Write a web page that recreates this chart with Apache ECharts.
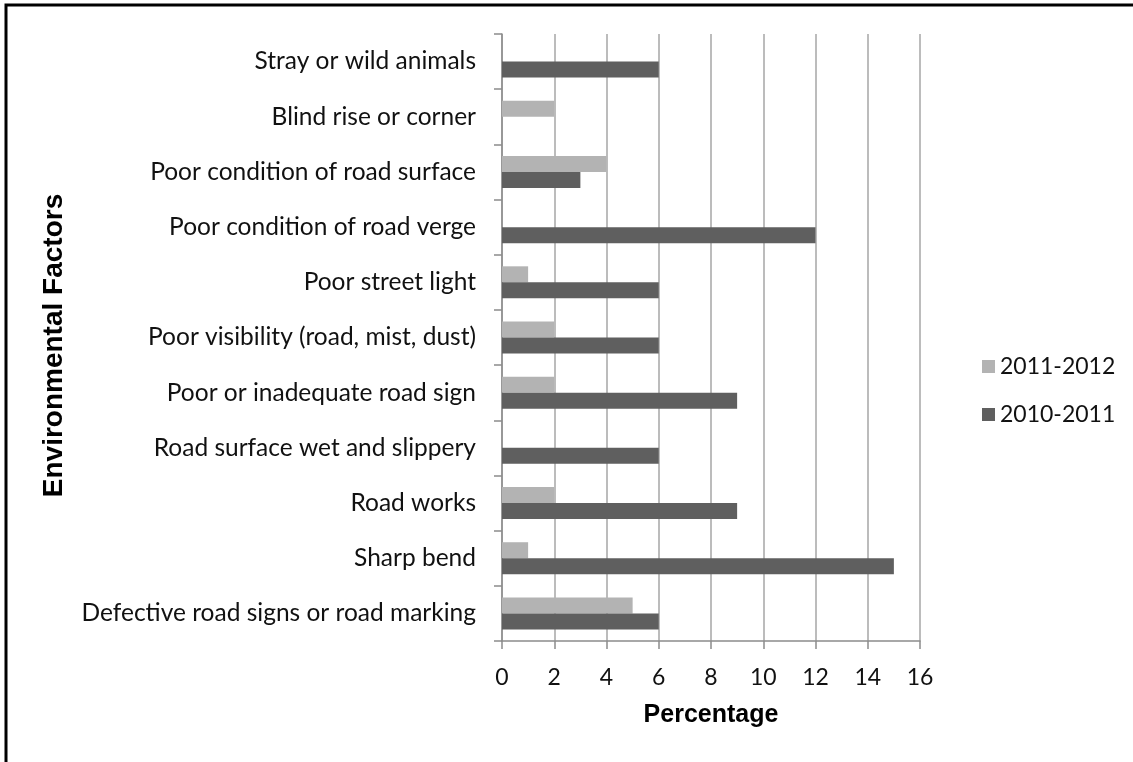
<!DOCTYPE html>
<html>
<head>
<meta charset="utf-8">
<title>Environmental Factors</title>
<script src="https://cdn.jsdelivr.net/npm/echarts@6/dist/echarts.min.js"></script>
<style>
  html, body { margin: 0; padding: 0; background: #fff; }
  #myChart { width: 1133px; height: 762px; }
</style>
</head>
<body>
<div id="myChart"></div>
<script>
  // categories, top to bottom as in the picture
  var factors = [
    'Stray or wild animals',
    'Blind rise or corner',
    'Poor condition of road surface',
    'Poor condition of road verge',
    'Poor street light',
    'Poor visibility (road, mist, dust)',
    'Poor or inadequate road sign',
    'Road surface wet and slippery',
    'Road works',
    'Sharp bend',
    'Defective road signs or road marking'
  ];
  var seriesNames = ['2011-2012', '2010-2011'];
  var values20112012 = [0, 2, 4, 0, 1, 2, 2, 0, 2, 1, 5];
  var values20102011 = [6, 0, 3, 12, 6, 6, 9, 6, 9, 15, 6];

  var labelFont = 'Lato, "Liberation Sans", sans-serif';
  var titleFont = '"Liberation Sans", Arial, sans-serif';

  var myChart = echarts.init(document.getElementById('myChart'));
  myChart.setOption({
    animation: false,
    backgroundColor: '#fff',
    graphic: [{
      type: 'polyline',
      shape: { points: [[6, 800], [6, 5], [1200, 5]] },
      style: { stroke: '#000', lineWidth: 3, fill: null }
    }],
    legend: {
      orient: 'vertical',
      left: 977,
      top: 350,
      itemWidth: 13,
      itemHeight: 13,
      itemGap: 25,
      icon: 'rect',
      data: seriesNames,
      textStyle: { fontFamily: labelFont, fontSize: 23, color: '#111' }
    },
    grid: {
      left: 502,
      right: 213,
      top: 34,
      bottom: 121
    },
    xAxis: {
      type: 'value',
      min: 0,
      max: 16,
      interval: 2,
      name: 'Percentage',
      nameLocation: 'middle',
      nameGap: 62,
      nameTextStyle: { fontFamily: titleFont, fontSize: 25, fontWeight: 'bold', color: '#000' },
      axisLine: { show: true, lineStyle: { color: '#8c8c8c', width: 1.5 } },
      axisTick: { show: true, length: 8, lineStyle: { color: '#8c8c8c', width: 1.5 } },
      axisLabel: { margin: 25, fontFamily: labelFont, fontSize: 23, color: '#111' },
      splitLine: { show: true, lineStyle: { color: '#a6a6a6', width: 1.5 } }
    },
    yAxis: {
      type: 'category',
      inverse: true,
      data: factors,
      name: 'Environmental Factors',
      nameLocation: 'middle',
      nameRotate: 90,
      nameGap: 434,
      nameTextStyle: {
        fontFamily: titleFont, fontSize: 28, fontWeight: 'bold', color: '#000',
        padding: [0, 16, 0, 0]
      },
      axisLine: { show: true, lineStyle: { color: '#8c8c8c', width: 1.5 } },
      axisTick: { show: true, length: 8, interval: 0, lineStyle: { color: '#8c8c8c', width: 1.5 } },
      axisLabel: { margin: 26, interval: 0, fontFamily: labelFont, fontSize: 24.5, color: '#111' }
    },
    series: [
      {
        name: '2011-2012',
        type: 'bar',
        barGap: '0%',
        barCategoryGap: '42%',
        itemStyle: { color: '#b3b3b3' },
        data: values20112012
      },
      {
        name: '2010-2011',
        type: 'bar',
        barGap: '0%',
        barCategoryGap: '42%',
        itemStyle: { color: '#5f5f5f' },
        data: values20102011
      }
    ]
  });
</script>
</body>
</html>
